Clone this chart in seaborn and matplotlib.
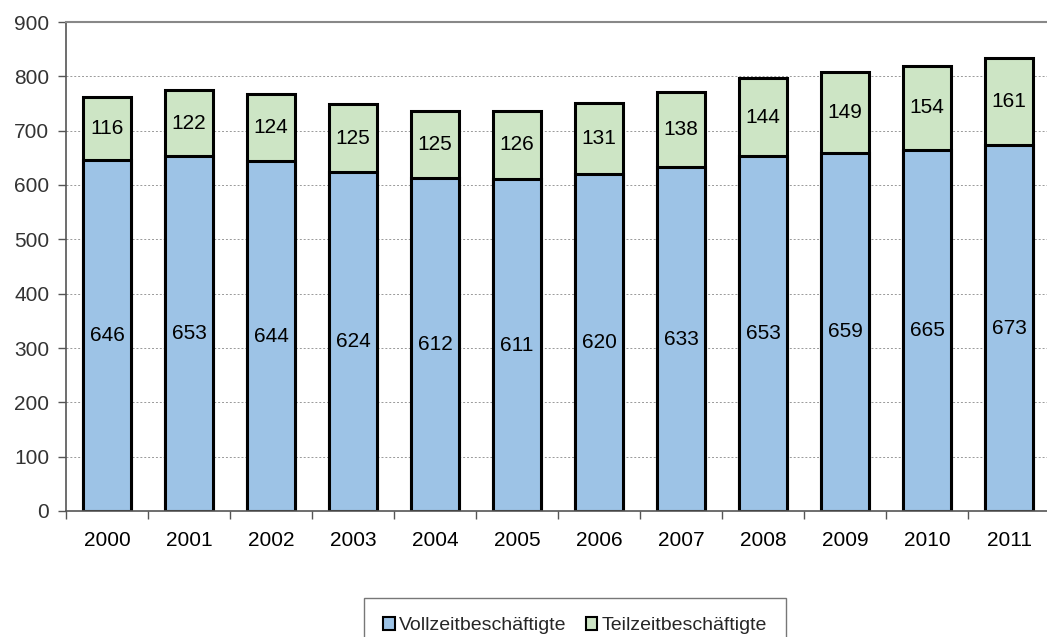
import pandas as pd
import matplotlib.pyplot as plt
import seaborn as sns
from matplotlib.patches import Patch

# Employment data per year (in thousands)
years = ['2000', '2001', '2002', '2003', '2004', '2005',
         '2006', '2007', '2008', '2009', '2010', '2011']
vollzeit = [646, 653, 644, 624, 612, 611, 620, 633, 653, 659, 665, 673]
teilzeit = [116, 122, 124, 125, 125, 126, 131, 138, 144, 149, 154, 161]

blue = '#9DC3E6'
green = '#CDE5C5'

df = pd.DataFrame({'year': years, 'vollzeit': vollzeit, 'teilzeit': teilzeit})
df['total'] = df['vollzeit'] + df['teilzeit']

sns.set_style('white')
plt.rcParams['font.family'] = ['Liberation Sans', 'DejaVu Sans']

fig = plt.figure(figsize=(10.47, 6.37), dpi=100)
ax = fig.add_axes([66 / 1047, 1 - 511 / 637, 984 / 1047, 489 / 637])

# stacked bars: total first (green), then full-time on top of it (blue)
sns.barplot(data=df, x='year', y='total', color=green, width=0.58,
            edgecolor='black', linewidth=2.2, saturation=1, ax=ax)
sns.barplot(data=df, x='year', y='vollzeit', color=blue, width=0.58,
            edgecolor='black', linewidth=2.2, saturation=1, ax=ax)

# value labels in the middle of each segment
for i, (v, t) in enumerate(zip(vollzeit, teilzeit)):
    ax.text(i, v / 2, str(v), ha='center', va='center', fontsize=15, color='black')
    ax.text(i, v + t / 2, str(t), ha='center', va='center', fontsize=15, color='black')

ax.set_ylim(0, 900)
ax.set_xlim(-0.5, 11.5)
ax.set_yticks(range(0, 901, 100))
ax.yaxis.grid(True, linestyle=(0, (2, 2)), color='#999999', linewidth=0.7)
ax.set_axisbelow(True)

ax.set_xlabel('')
ax.set_ylabel('')
ax.tick_params(axis='both', labelsize=15, colors='#555555')
ax.tick_params(axis='y', left=True, length=6, width=1, pad=6, labelcolor='#333333')
ax.tick_params(axis='x', bottom=False, pad=11, labelcolor='black')
# category boundary ticks
ax.set_xticks([i - 0.5 for i in range(13)], minor=True)
ax.tick_params(axis='x', which='minor', bottom=True, length=6, width=1, color='#555555')

ax.spines['right'].set_visible(False)
ax.spines['left'].set_color('#555555')
ax.spines['left'].set_linewidth(1.2)
ax.spines['bottom'].set_color('#555555')
ax.spines['bottom'].set_linewidth(1.2)
ax.spines['top'].set_color('#888888')
ax.spines['top'].set_linewidth(1.5)

handles = [Patch(facecolor=blue, edgecolor='black', linewidth=1.5, label='Vollzeitbeschäftigte'),
           Patch(facecolor=green, edgecolor='black', linewidth=1.5, label='Teilzeitbeschäftigte')]
leg = fig.legend(handles=handles, loc='upper center', bbox_to_anchor=(575 / 1047, 1 - 598 / 637),
                 ncol=2, fontsize=14, frameon=True, fancybox=False, handlelength=0.6,
                 handleheight=0.6, handletextpad=0.2, columnspacing=1.0,
                 borderpad=1.0, borderaxespad=0, edgecolor='#555555')
leg.get_frame().set_linewidth(1)

plt.savefig('out.png', dpi=100)
